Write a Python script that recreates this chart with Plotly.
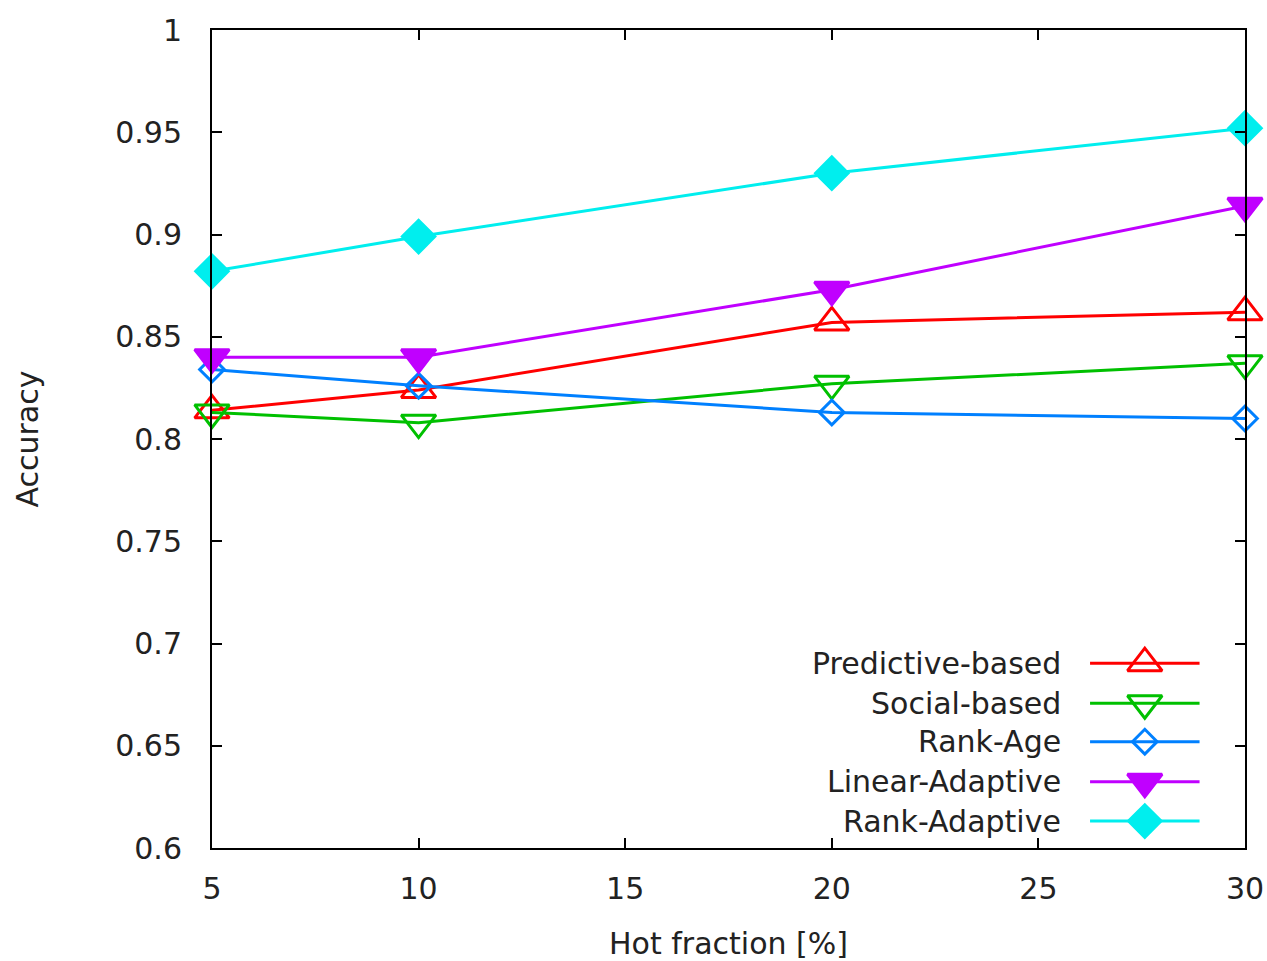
import plotly.graph_objects as go

hot_fraction = [5, 10, 20, 30]
series_names = ["Predictive-based", "Social-based", "Rank-Age", "Linear-Adaptive", "Rank-Adaptive"]
predictive = [0.814, 0.824, 0.857, 0.862]
social = [0.813, 0.808, 0.827, 0.837]
rank_age = [0.834, 0.826, 0.813, 0.810]
linear_adaptive = [0.840, 0.840, 0.873, 0.914]
rank_adaptive = [0.882, 0.899, 0.930, 0.952]
y_ticks = [0.6, 0.65, 0.7, 0.75, 0.8, 0.85, 0.9, 0.95, 1.0]
y_tick_labels = ["0.6", "0.65", "0.7", "0.75", "0.8", "0.85", "0.9", "0.95", "1"]
x_ticks = [5, 10, 15, 20, 25, 30]

values = [predictive, social, rank_age, linear_adaptive, rank_adaptive]
colors = ["#ff0000", "#00c000", "#0080ff", "#c000ff", "#00eeee"]
symbols = ["triangle-up-open", "triangle-down-open", "diamond-open", "triangle-down", "diamond"]
sizes = [30, 30, 19, 30, 25]

FONT = "DejaVu Sans"
FSIZE = 30
TXT = "#222222"
fig = go.Figure()

for name, vals, col, sym, sz in zip(series_names, values, colors, symbols, sizes):
    fig.add_trace(go.Scatter(
        x=hot_fraction, y=vals, mode="lines+markers", name=name,
        line=dict(color=col, width=3),
        marker=dict(symbol=sym, size=sz, color=col, line=dict(color=col, width=3)),
        showlegend=False, cliponaxis=False,
    ))

# custom gnuplot-style legend (text left, sample right)
row_y = [0.226, 0.177, 0.130, 0.081, 0.033]
for name, col, sym, sz, yy in zip(series_names, colors, symbols, sizes, row_y):
    fig.add_trace(go.Scatter(
        x=[0.850, 0.956], y=[yy, yy], mode="lines",
        line=dict(color=col, width=3),
        xaxis="x2", yaxis="y2", showlegend=False, hoverinfo="skip",
    ))
    fig.add_trace(go.Scatter(
        x=[0.903], y=[yy], mode="markers",
        marker=dict(symbol=sym, size=sz, color=col, line=dict(color=col, width=3)),
        xaxis="x2", yaxis="y2", showlegend=False, hoverinfo="skip",
    ))
    fig.add_annotation(x=0.824, y=yy, xref="paper", yref="paper", text=name,
                       showarrow=False, xanchor="right", yanchor="middle",
                       font=dict(family=FONT, size=FSIZE, color=TXT))

axis_common = dict(
    showline=True, linecolor="black", linewidth=2, mirror="allticks",
    ticks="inside", ticklen=10, tickwidth=1.5, tickcolor="black",
    showgrid=False, zeroline=False, automargin=False,
    tickfont=dict(family=FONT, size=FSIZE, color=TXT),
)

fig.update_layout(
    width=1267, height=961,
    margin=dict(l=212, r=22, t=30, b=113),
    plot_bgcolor="white", paper_bgcolor="white",
    xaxis=dict(range=[5, 30], tickvals=x_ticks, ticklabelstandoff=13,
               title=dict(text="Hot fraction [%]", standoff=32,
                          font=dict(family=FONT, size=FSIZE, color=TXT)),
               **axis_common),
    yaxis=dict(range=[0.6, 1.0], tickvals=y_ticks, ticktext=y_tick_labels,
               ticklabelstandoff=22,
               title=dict(text="Accuracy", standoff=68,
                          font=dict(family=FONT, size=FSIZE, color=TXT)),
               **axis_common),
    xaxis2=dict(range=[0, 1], overlaying="x", visible=False, anchor="y2"),
    yaxis2=dict(range=[0, 1], overlaying="y", visible=False, anchor="x2"),
    showlegend=False,
)

fig.write_html(
    "out.html",
    config={"displayModeBar": False},
    post_script="document.body.style.margin='0';document.body.style.overflow='hidden';",
)
